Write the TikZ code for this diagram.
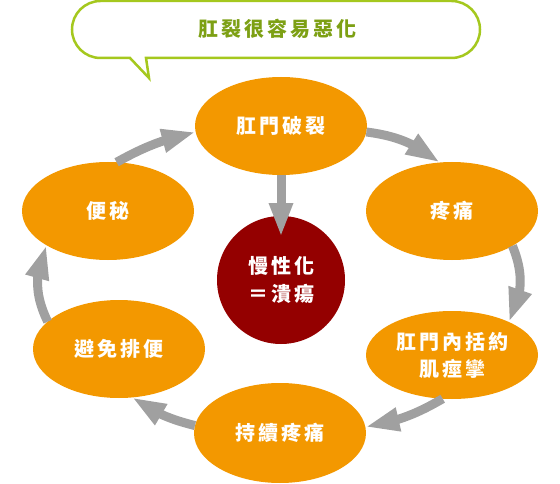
\documentclass[tikz,border=0pt]{standalone}
\usepackage{fontspec}
\newfontfamily\cjk[LetterSpace=15]{Noto Sans CJK TC}
\usetikzlibrary{shapes.geometric,arrows.meta,bending}
\definecolor{fissure}{RGB}{243,152,0}
\definecolor{ulcer}{RGB}{148,0,0}
\definecolor{arrowgray}{RGB}{160,160,160}
\definecolor{leaf}{RGB}{165,200,30}
\definecolor{leafdark}{RGB}{125,160,20}
\tikzset{
  stage/.style={ellipse, fill=fissure, text=white, inner sep=0pt, outer sep=0pt,
    minimum width=172pt, minimum height=98pt, align=center,
    font=\cjk\bfseries\fontsize{20}{27}\selectfont},
  core/.style={circle, fill=ulcer, text=white, inner sep=0pt, outer sep=0pt,
    minimum size=128pt, align=center, font=\cjk\bfseries\fontsize{20}{28}\selectfont},
  flow/.style={draw=arrowgray, line width=9pt, -{Triangle[length=34pt,width=22pt]}}
}
\begin{document}
\begin{tikzpicture}[x=1pt, y=1pt]
    \useasboundingbox (0,0) rectangle (560,483);
    % speech bubble
    \draw[leaf, line width=2.5pt, fill=white] (146,425) -- (451.5,425)
      arc[start angle=-90, end angle=90, radius=28.5] -- (100.5,482)
      arc[start angle=90, end angle=270, radius=28.5] -- (130,425) -- (149,405) -- cycle;
    \node[text=leafdark, font=\cjk\bfseries\fontsize{20}{24}\selectfont] (title) at (277,454) {肛裂很容易惡化};
    % cycle
    \node[stage] (tear) at (281,357) {肛門破裂};
    \node[stage] (pain) at (452,272) {疼痛};
    \node[stage, minimum height=88pt] (spasm) at (452,128) {肛門內括約\\肌痙攣};
    \node[stage, minimum height=100pt] (lasting) at (280,50) {持續疼痛};
    \node[stage] (avoid) at (119,134) {避免排便};
    \node[stage] (constip) at (108,272) {便秘};
    \node[core] (chronic) at (281,203) {慢性化\\＝潰瘍};
    % arrows
    \draw[flow] (constip.80) to[bend left=8] (tear.184);
    \draw[flow] (tear.-4) to[bend left=15] (pain.104);
    \draw[flow] (pain.-30) to[bend left=25] (spasm.30);
    \draw[flow] (spasm.258) to[bend left=10] (lasting.4);
    \draw[flow] (lasting.175) to[bend left=10] (avoid.-75);
    \draw[flow] (avoid.159) to[bend left=25] (constip.209);
    \draw[flow, shorten >=43pt] (tear.south) -- (chronic.center);
\end{tikzpicture}
\end{document}
